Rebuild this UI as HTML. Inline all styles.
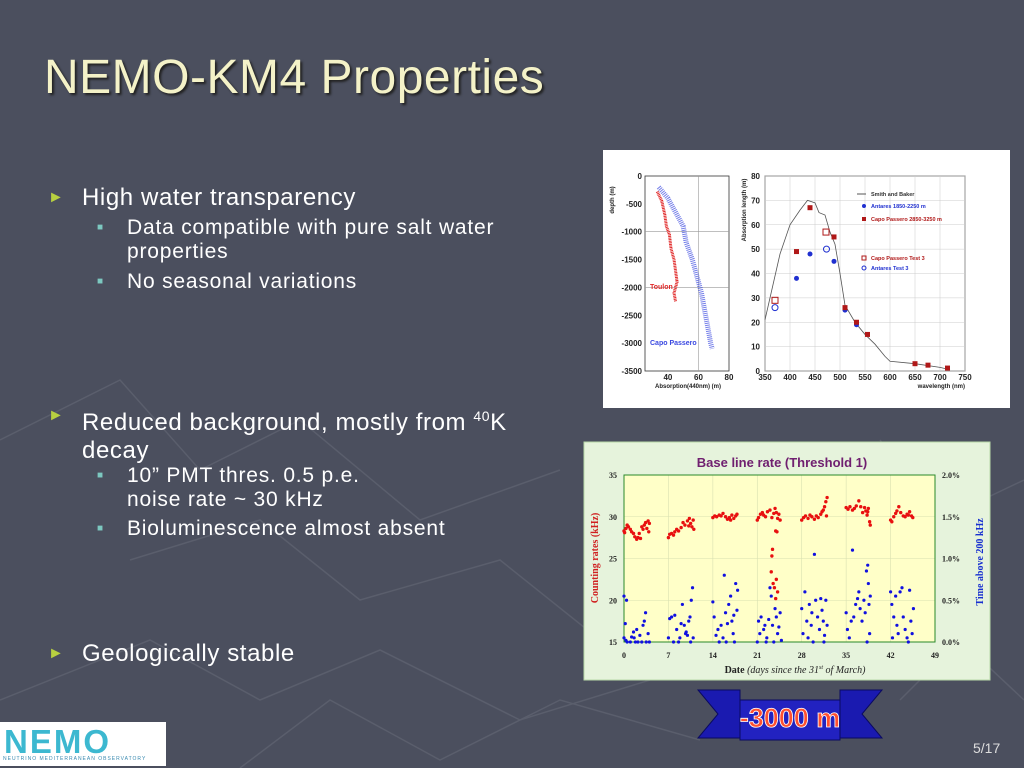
<!DOCTYPE html>
<html><head><meta charset="utf-8">
<style>
body{margin:0;width:1024px;height:768px;overflow:hidden;background:#4b4f5e;font-family:"Liberation Sans",sans-serif;}
#slide{position:relative;width:1024px;height:768px;}
.t{position:absolute;color:#fff;white-space:nowrap;}
.b{font-size:24px;letter-spacing:0.6px;}
.s{font-size:21px;letter-spacing:0.8px;}
</style></head>
<body>
<div id="slide">
<svg width="1024" height="768" style="position:absolute;left:0;top:0">
<g stroke="#5a5e6c" stroke-width="1.5" fill="none">
<polyline points="0,440 120,380 200,470 300,420 420,520 560,470"/>
<polyline points="130,560 260,520 360,600 500,560 600,640"/>
<polyline points="0,700 150,640 260,700 380,650 520,720 650,680"/>
<polyline points="240,768 330,700 440,760 560,700 700,740"/>
<polyline points="880,440 940,520 1024,480"/>
<polyline points="900,700 960,640 1024,700"/>
</g></svg>

<div class="t" style="left:44px;top:50px;font-size:48px;letter-spacing:0.5px;color:#f4f2c8;text-shadow:2px 2px 2px #222;">NEMO-KM4 Properties</div>

<div class="t b" style="left:48px;top:184px;"><span style="color:#b8d040;font-size:16px;position:relative;top:-3px">►</span><span style="position:absolute;left:34px">High water transparency</span></div>
<div class="t s" style="left:97px;top:216px;line-height:24px;"><span style="color:#7cc8c0;font-size:10px;position:relative;top:-4px">■</span><span style="position:absolute;left:30px">Data compatible with pure salt water<br>properties</span></div>
<div class="t s" style="left:97px;top:270px;"><span style="color:#7cc8c0;font-size:10px;position:relative;top:-4px">■</span><span style="position:absolute;left:30px">No seasonal variations</span></div>

<div class="t b" style="left:48px;top:402px;line-height:28px;"><span style="color:#b8d040;font-size:16px;position:relative;top:-3px">►</span><span style="position:absolute;left:34px">Reduced background, mostly from <sup style="font-size:14px">40</sup>K<br>decay</span></div>
<div class="t s" style="left:97px;top:464px;line-height:24px;"><span style="color:#7cc8c0;font-size:10px;position:relative;top:-4px">■</span><span style="position:absolute;left:30px">10” PMT thres. 0.5 p.e.<br>noise rate ~ 30 kHz</span></div>
<div class="t s" style="left:97px;top:517px;"><span style="color:#7cc8c0;font-size:10px;position:relative;top:-4px">■</span><span style="position:absolute;left:30px">Bioluminescence almost absent</span></div>

<div class="t b" style="left:48px;top:640px;"><span style="color:#b8d040;font-size:16px;position:relative;top:-3px">►</span><span style="position:absolute;left:34px">Geologically stable</span></div>

<div class="t" style="left:973px;top:740px;font-size:14px;color:#ddd;">5/17</div>

<div style="position:absolute;left:0;top:722px;width:166px;height:44px;background:#fff;">
<div style="position:absolute;left:4px;top:1px;font-size:33px;font-weight:bold;color:#3cb8d0;letter-spacing:2px;font-family:'Liberation Sans',sans-serif;">NEMO</div>
<div style="position:absolute;left:3px;top:34px;font-size:5px;color:#3a8ab0;letter-spacing:1px;">NEUTRINO MEDITERRANEAN OBSERVATORY</div>
</div>

<svg width="1024" height="768" style="position:absolute;left:0;top:0">
<polygon points="698,690 740,690 740,700 840,700 840,690 882,690 862,714 882,738 698,738 718,714" fill="#1a1ab0" stroke="#0a0a60"/>
<rect x="740" y="700" width="100" height="40" fill="#2222c0" stroke="#0a0a60"/>
<text x="790" y="727" text-anchor="middle" font-size="27" font-weight="bold" fill="#ff5030" stroke="#fff" stroke-width="0.8" font-family="Liberation Sans,sans-serif">-3000 m</text>
</svg>

<svg id="absChart" width="1024" height="768" style="position:absolute;left:0;top:0"></svg>
<svg id="rateChart" width="1024" height="768" style="position:absolute;left:0;top:0"></svg>
</div>

<script>
// ---- absorption chart data ----
const toulonAbs=[33,36,38,39,41,42,44,45,46,44,45];
const toulonDepth=[-280,-450,-700,-900,-1050,-1300,-1500,-1700,-1900,-2100,-2250];
const capoAbs=[34,40,46,50,52,56,59,62,64,66,68,69];
const capoDepth=[-200,-400,-700,-900,-1200,-1500,-1800,-2100,-2400,-2700,-3000,-3100];
const depthTicks=[0,-500,-1000,-1500,-2000,-2500,-3000,-3500];
const absTicks=[40,60,80];
const sbWave=[350,360,380,400,420,435,450,458,470,480,490,500,510,530,550,570,590,600,650,700,720];
const sbLen=[21,30,48,60,66,70,69,65,64,57,52,40,27,20,15,11,6,4,3,1.5,0.5];
const cpWave=[413,440,488,510,533,555,650,676,715];
const cpLen=[49,67,55,26,20,15,3,2.4,1.2];
const antWave=[413,440,488,510,533];
const antLen=[38,48,45,25,19];
const cpTestWave=[370,472];
const cpTestLen=[29,57];
const antTestWave=[370,473];
const antTestLen=[26,50];
const waveTicks=[350,400,450,500,550,600,650,700,750];
const lenTicks=[0,10,20,30,40,50,60,70,80];

// ---- rate chart data ----
const redDays=[0,0.1,0.3,0.5,0.7,1,1.2,1.5,1.7,2,2.2,2.4,2.6,2.8,3,3.2,3.4,3.6,3.8,4,3.9,
7,7.2,7.5,7.8,8,8.3,8.6,9,9.3,9.6,10,10.3,10.5,10.7,11,10.9,10.2,
14,14.3,14.6,15,15.3,15.6,16,16.3,16.6,17,17.3,17.6,17.8,16.8,
21,21.2,21.5,21.8,22,22.3,22.6,23,23.3,23.6,23.8,24,24.2,24.4,24.6,23.9,24.1,23.4,23.3,23.2,23.5,23.7,24.0,24.2,23.9,
28,28.3,28.6,29,29.3,29.6,30,30.3,30.6,31,31.2,31.4,31.6,31.8,32,31.9,
35,35.3,35.6,36,36.3,36.6,37,37.3,37.6,37.9,38.1,38.3,38.5,38.7,38.8,38.4,
42,42.2,42.5,42.8,43,43.3,43.6,44,44.3,44.6,45,45.3,45.5,44.8];
const redRates=[28.3,28.1,28.6,29.0,28.8,28.5,28.2,28.0,27.6,27.3,27.5,28.0,27.4,28.8,28.5,29.0,29.3,28.6,29.5,29.2,28.2,
27.5,27.9,28.0,27.8,28.2,28.5,28.3,28.7,29.3,29.0,29.5,29.8,29.2,28.8,28.5,29.6,28.9,
29.9,30.1,30.0,30.2,30.1,30.4,30.0,29.7,29.9,30.2,29.8,30.1,30.3,29.6,
29.6,29.9,30.3,30.5,30.2,30.0,30.6,30.8,29.9,30.4,31.0,30.5,29.8,30.3,29.6,28.3,28.2,26.1,25.3,23.4,22.0,21.5,22.5,21.0,20.2,
29.6,29.9,30.1,29.8,30.2,30.0,29.7,30.1,29.9,30.3,30.6,30.8,31.2,31.8,32.3,30.1,
31.1,30.9,31.2,30.8,31.0,31.3,31.9,31.2,30.5,31.1,30.7,30.2,31.0,29.4,29.0,30.6,
29.6,29.4,30.0,30.4,30.7,31.2,30.5,30.1,30.0,30.3,30.6,30.1,29.9,30.2];
const blueDays=[0,0.2,0.4,0,0.3,0.5,1,1.2,1.5,1.8,2,2.2,2.5,2.8,3,3.2,3.4,3.5,3.8,4,1.6,
7,7.2,7.5,7.8,8,8.3,8.6,9,9.2,9.5,9.8,10,10.2,10.4,10.6,10.8,10.5,10.9,9.7,8.8,
14,14.2,14.5,14.8,15,15.3,15.6,15.8,16,16.3,16.5,16.8,17,17.2,17.4,17.6,17.8,17.9,17.3,16.1,
21,21.2,21.4,21.6,22,22.2,22.5,22.8,23,23.2,23.4,23.6,23.8,24,24.2,24.4,24.6,24.8,22.4,
28,28.2,28.5,28.8,29,29.2,29.5,29.8,30,30.2,30.5,30.8,31,31.2,31.4,31.6,31.8,32,31.5,29.6,
35,35.2,35.5,35.8,36,36.2,36.5,36.8,37,37.2,37.5,37.8,38,38.2,38.4,38.5,38.6,38.7,38.8,38.3,
42,42.2,42.5,42.8,43,43.2,43.5,43.8,44,44.3,44.6,45,45.2,45.4,45.6,44.8,42.3];
const bluePct=[0.55,0.22,0.5,0.05,0.02,0,0,0.06,0.12,0,0.15,0,0.08,0,0.2,0.25,0.35,0,0.1,0,0.05,
0.05,0.28,0.3,0,0.32,0.15,0,0.22,0.45,0.2,0.12,0.08,0.25,0.3,0.5,0.65,0,0.05,0.1,0.05,
0.48,0.3,0.08,0.15,0,0.2,0.05,0.8,0.35,0.22,0.45,0.55,0.25,0.1,0,0.7,0.38,0.62,0.32,0,
0,0.25,0.1,0.3,0.15,0.2,0.05,0.27,0.65,0.55,0.2,0,0.4,0.3,0.1,0.18,0.35,0.02,0,
0.4,0.1,0.6,0.25,0.05,0.45,0.2,0,1.05,0.5,0.3,0.15,0.52,0.38,0.25,0.08,0.5,0.2,0,0.35,
0.35,0.15,0.05,0.25,1.1,0.3,0.45,0.52,0.6,0.4,0.25,0.5,0.35,0.85,0.92,0.7,0.45,0.1,0.55,0,
0.6,0.45,0.3,0.55,0.2,0.1,0.6,0.65,0.3,0.15,0.05,0.62,0.25,0.1,0.4,0,0.05];
const dayTicks=[0,7,14,21,28,35,42,49];
const rateTicks=[15,20,25,30,35];
const pctTicks=[0,0.5,1.0,1.5,2.0];

const NS="http://www.w3.org/2000/svg";
function mk(parent,tag,attrs,text){const e=document.createElementNS(NS,tag);for(const k in attrs)e.setAttribute(k,attrs[k]);if(text!==undefined)e.textContent=text;parent.appendChild(e);return e;}

// ---------- absorption chart ----------
(function(){
const s=document.getElementById('absChart');
const bg=mk(s,'rect',{x:603,y:150,width:407,height:258,fill:'#fff'});


const lx=a=>645+(a-25)/(80-25)*(729-645);
const ly=d=>176+(-d)/3500*(371-176);
const lp=mk(s,'rect',{x:645,y:176,width:84,height:195,fill:'none',stroke:'#333','stroke-width':0.8});


depthTicks.forEach(d=>{
  if(d%1000===0&&d!==0&&d!==-3000)mk(s,'line',{x1:645,x2:729,y1:ly(d),y2:ly(d),stroke:'#999','stroke-width':0.6});
  const t=mk(s,'text',{x:642,y:ly(d)+3,'text-anchor':'end','font-size':8,'font-weight':'bold',fill:'#222'},String(d));
  
  
});
absTicks.forEach(a=>{
  if(a===60)mk(s,'line',{x1:lx(a),x2:lx(a),y1:176,y2:371,stroke:'#999','stroke-width':0.6});
  const t=mk(s,'text',{x:lx(a),y:380,'text-anchor':'middle','font-size':8,'font-weight':'bold',fill:'#222'},String(a));
  
  
});
let tx=mk(s,'text',{x:688,y:388,'text-anchor':'middle','font-size':6,'font-weight':'bold',fill:'#222'},'Absorption(440nm) (m)');


tx=mk(s,'text',{x:0,y:0,transform:'translate(614,200) rotate(-90)','text-anchor':'middle','font-size':6,'font-weight':'bold',fill:'#222'},'depth (m)');


let pl=mk(s,'polyline',{points:capoAbs.map((a,i)=>lx(a)+','+ly(capoDepth[i])).join(' '),fill:'none',stroke:'#3a48e0','stroke-width':5,'stroke-dasharray':'1 1','opacity':0.7});


pl=mk(s,'polyline',{points:toulonAbs.map((a,i)=>lx(a)+','+ly(toulonDepth[i])).join(' '),fill:'none',stroke:'#e02828','stroke-width':3,'stroke-dasharray':'1 0.6'});


tx=mk(s,'text',{x:650,y:289,'font-size':7,'font-weight':'bold',fill:'#e02828'},'Toulon');


tx=mk(s,'text',{x:650,y:345,'font-size':7,'font-weight':'bold',fill:'#3a48e0'},'Capo Passero');



const rx=w=>765+(w-350)/400*(965-765);
const ry=v=>371-v/80*(371-176);
const rp=mk(s,'rect',{x:765,y:176,width:200,height:195,fill:'none',stroke:'#333','stroke-width':0.8});


lenTicks.forEach(v=>{
  mk(s,'line',{x1:765,x2:965,y1:ry(v),y2:ry(v),stroke:'#ccc','stroke-width':0.5});
  const t=mk(s,'text',{x:760,y:ry(v)+3,'text-anchor':'end','font-size':8,'font-weight':'bold',fill:'#222'},String(v));
  
  
});
waveTicks.forEach(w=>{
  mk(s,'line',{x1:rx(w),x2:rx(w),y1:176,y2:371,stroke:'#ccc','stroke-width':0.5});
  const t=mk(s,'text',{x:rx(w),y:380,'text-anchor':'middle','font-size':8,'font-weight':'bold',fill:'#222'},String(w));
  
  
});
tx=mk(s,'text',{x:965,y:388,'text-anchor':'end','font-size':6,'font-weight':'bold',fill:'#222'},'wavelength (nm)');


tx=mk(s,'text',{x:0,y:0,transform:'translate(746,210) rotate(-90)','text-anchor':'middle','font-size':6,'font-weight':'bold',fill:'#222'},'Absorption length (m)');


pl=mk(s,'polyline',{points:sbWave.map((w,i)=>rx(w)+','+ry(sbLen[i])).join(' '),fill:'none',stroke:'#555','stroke-width':0.8});


antWave.forEach((w,i)=>{const c=mk(s,'circle',{cx:rx(w),cy:ry(antLen[i]),r:2.5,fill:'#2030d0'});

});
cpWave.forEach((w,i)=>{const c=mk(s,'rect',{x:rx(w)-2.5,y:ry(cpLen[i])-2.5,width:5,height:5,fill:'#b01818'});

});
cpTestWave.forEach((w,i)=>{const c=mk(s,'rect',{x:rx(w)-3,y:ry(cpTestLen[i])-3,width:6,height:6,fill:'none',stroke:'#b01818'});

});
antTestWave.forEach((w,i)=>{const c=mk(s,'circle',{cx:rx(w),cy:ry(antTestLen[i]),r:3,fill:'none',stroke:'#2030d0'});

});
const leg=[['Smith and Baker','#333','line',194],['Antares 1850-2250 m','#2030d0','dot',206],['Capo Passero 2850-3250 m','#b01818','sq',219],['Capo Passero Test 3','#b01818','osq',258],['Antares Test 3','#2030d0','ocirc',268]];
leg.forEach(l=>{
  const y=l[3];
  if(l[2]==='line')mk(s,'line',{x1:857,x2:866,y1:y,y2:y,stroke:'#555'});
  if(l[2]==='dot')mk(s,'circle',{cx:864,cy:y,r:2,fill:l[1]});
  if(l[2]==='sq')mk(s,'rect',{x:862,y:y-2,width:4,height:4,fill:l[1]});
  if(l[2]==='osq')mk(s,'rect',{x:862,y:y-2,width:4,height:4,fill:'none',stroke:l[1]});
  if(l[2]==='ocirc')mk(s,'circle',{cx:864,cy:y,r:2,fill:'none',stroke:l[1]});
  const t=mk(s,'text',{x:871,y:y+2,'font-size':5.5,'font-weight':'bold',fill:l[1]},l[0]);
  
  
});
})();

// ---------- rate chart ----------
(function(){
const s=document.getElementById('rateChart');
const bg=mk(s,'rect',{x:584,y:442,width:406,height:238,fill:'#e6f3dc',stroke:'#b8d8a8'});


const X=d=>624+d/49*(935-624);
const Y=v=>642-(v-15)/20*(642-475);
const P=p=>642-p/2*(642-475);
const pa=mk(s,'rect',{x:624,y:475,width:311,height:167,fill:'#ffffc8'});


rateTicks.forEach(v=>{
  mk(s,'line',{x1:624,x2:935,y1:Y(v),y2:Y(v),stroke:'#d8e0b0','stroke-width':0.6});
  const t=mk(s,'text',{x:617,y:Y(v)+3,'text-anchor':'end','font-size':8,'font-weight':'bold','font-family':'Liberation Serif,serif',fill:'#222'},String(v));
  
  
});
pctTicks.forEach(p=>{
  const t=mk(s,'text',{x:942,y:P(p)+3,'font-size':8,'font-weight':'bold','font-family':'Liberation Serif,serif',fill:'#222'},p.toFixed(1)+'%');
  
  
});
dayTicks.forEach(d=>{
  mk(s,'line',{x1:X(d),x2:X(d),y1:475,y2:642,stroke:'#d8e0b0','stroke-width':0.6});
  const t=mk(s,'text',{x:X(d),y:658,'text-anchor':'middle','font-size':8,'font-weight':'bold','font-family':'Liberation Serif,serif',fill:'#222'},String(d));
  
  
});
const fr=mk(s,'rect',{x:624,y:475,width:311,height:167,fill:'none',stroke:'#2a8a2a','stroke-width':1});


blueDays.forEach((d,i)=>{const c=mk(s,'circle',{cx:X(d),cy:P(bluePct[i]),r:1.6,fill:'#1010e0'});

});
redDays.forEach((d,i)=>{const c=mk(s,'circle',{cx:X(d),cy:Y(redRates[i]),r:1.7,fill:'#e81010'});

});
let t=mk(s,'text',{x:782,y:467,'text-anchor':'middle','font-size':13,'font-weight':'bold',fill:'#702070'},'Base line rate (Threshold 1)');


t=mk(s,'text',{x:0,y:0,transform:'translate(598,558) rotate(-90)','text-anchor':'middle','font-size':10,'font-weight':'bold','font-family':'Liberation Serif,serif',fill:'#d02020'},'Counting rates (kHz)');


t=mk(s,'text',{x:0,y:0,transform:'translate(983,562) rotate(-90)','text-anchor':'middle','font-size':10,'font-weight':'bold','font-family':'Liberation Serif,serif',fill:'#1830d0'},'Time above 200 kHz');


t=mk(s,'text',{x:795,y:673,'text-anchor':'middle','font-size':10,'font-family':'Liberation Serif,serif',fill:'#222'});


t.innerHTML='<tspan font-weight="bold">Date</tspan> <tspan font-style="italic">(days since the 31</tspan><tspan font-size="6" dy="-4" font-style="italic">st</tspan><tspan dy="4" font-style="italic"> of March)</tspan>';
})();
</script>
</body></html>
